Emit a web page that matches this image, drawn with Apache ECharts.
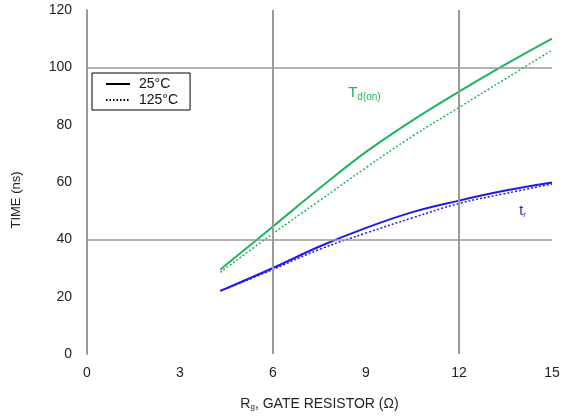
<!DOCTYPE html>
<html><head><meta charset="utf-8">
<script src="https://cdn.jsdelivr.net/npm/echarts@6/dist/echarts.min.js"></script>
<style>html,body{margin:0;padding:0;background:#fff}#c{width:564px;height:417px}</style>
</head><body><div id="c"></div>
<script>
var rg = [4.3, 6, 7.5, 9, 10.5, 12, 13.5, 15];
var tdon25 = [29.5, 44.5, 57.8, 70.5, 81.5, 91.5, 101, 110];
var tdon125 = [28.5, 42, 53.5, 65, 76, 86, 96, 106];
var tr25 = [22, 30, 37.5, 44, 49.5, 53.5, 57, 59.8];
var tr125 = [22, 29.5, 36.5, 42.2, 47.5, 52.5, 56, 59.3];
var xTicks = [0, 3, 6, 9, 12, 15];
var yTicks = [0, 20, 40, 60, 80, 100, 120];
var gridX = [6, 12];
var gridY = [40, 100];

var GREEN = '#1fb45c', BLUE = '#1b1bf0', GRAY = '#9a9a9a';
function pairs(xs, ys){ return xs.map(function(x,i){return [x, ys[i]];}); }
var font = 'Liberation Sans, Arial, sans-serif';

var chart = echarts.init(document.getElementById('c'));
chart.setOption({
  animation: false,
  backgroundColor: '#fff',
  grid: {left: 87, right: 12, top: 10, bottom: 63},
  legend: {
    orient: 'vertical', left: 92, top: 73,
    data: ['25°C', '125°C'],
    borderColor: '#000', borderWidth: 1, padding: [4, 12, 3, 13],
    itemGap: 2, itemWidth: 24, itemHeight: 14,
    itemStyle: {opacity: 0},
    textStyle: {fontFamily: font, fontSize: 14, color: '#111', padding: [0, 0, 0, 4]}
  },
  xAxis: {
    type: 'value', min: 0, max: 15, interval: 3,
    name: '{a|R}{s|g}{a|, GATE RESISTOR (Ω)}', nameLocation: 'middle', nameGap: 43,
    nameTextStyle: {rich: {a: {fontFamily: font, fontSize: 14, color: '#222'}, s: {fontFamily: font, fontSize: 8, color: '#222', verticalAlign: 'bottom', padding: [6,0,0,0]}}},
    axisLine: {show: false}, axisTick: {show: false}, splitLine: {show: false},
    axisLabel: {fontFamily: font, fontSize: 14, color: '#222', margin: 12,
      customValues: xTicks}
  },
  yAxis: {
    type: 'value', min: 0, max: 120, interval: 20,
    name: 'TIME (ns)', nameLocation: 'middle', nameGap: 64, nameRotate: 90,
    nameTextStyle: {fontFamily: font, fontSize: 13, color: '#222', padding: [0, 0, 0, -36]},
    axisLine: {show: true, lineStyle: {color: GRAY, width: 2}}, axisTick: {show: false}, splitLine: {show: false},
    axisLabel: {fontFamily: font, fontSize: 14, color: '#222', margin: 15}
  },
  series: [
    {type: 'line', name: 'grid', data: [], symbol: 'none', silent: true,
     markLine: {silent: true, symbol: 'none', label: {show: false},
       lineStyle: {color: GRAY, width: 2, type: 'solid'},
       data: gridX.map(function(v){return {xAxis: v};}).concat(gridY.map(function(v){return {yAxis: v, lineStyle:{width:1.5}};}))}},
    {type: 'line', name: '25°C', data: [], symbol: 'none', lineStyle: {color: '#000', width: 2}, itemStyle: {color: '#000'}},
    {type: 'line', name: '125°C', data: [], symbol: 'none', lineStyle: {color: '#000', width: 1.5, type: [1.5, 2]}, itemStyle: {color: '#000'}},
    {type: 'line', name: 'td25', data: pairs(rg, tdon25), smooth: 0.4, symbol: 'none', lineStyle: {color: GREEN, width: 2},
     markPoint: {symbol: 'circle', symbolSize: 1, itemStyle: {color: 'rgba(0,0,0,0)'}, data: [{coord: [8.95, 91], value: 'T',
       label: {show: true, position: 'inside', formatter: '{a|T}{s|d(on)}', rich: {a: {fontFamily: font, fontSize: 15, color: GREEN}, s: {fontFamily: font, fontSize: 10, color: GREEN, padding: [9,0,0,0]}}}}]}},
    {type: 'line', name: 'td125', data: pairs(rg, tdon125), smooth: 0.4, symbol: 'none', lineStyle: {color: GREEN, width: 1.5, type: [2, 2]}},
    {type: 'line', name: 'tr25', data: pairs(rg, tr25), smooth: 0.4, symbol: 'none', lineStyle: {color: BLUE, width: 2},
     markPoint: {symbol: 'circle', symbolSize: 1, itemStyle: {color: 'rgba(0,0,0,0)'}, data: [{coord: [14.05, 50], value: 't',
       label: {show: true, position: 'inside', formatter: '{a|t}{s|r}', rich: {a: {fontFamily: font, fontSize: 14, color: BLUE}, s: {fontFamily: font, fontSize: 8, color: BLUE, padding: [8,0,0,0]}}}}]}},
    {type: 'line', name: 'tr125', data: pairs(rg, tr125), smooth: 0.4, symbol: 'none', lineStyle: {color: BLUE, width: 1.5, type: [2, 2]}}
  ]
});
</script></body></html>
